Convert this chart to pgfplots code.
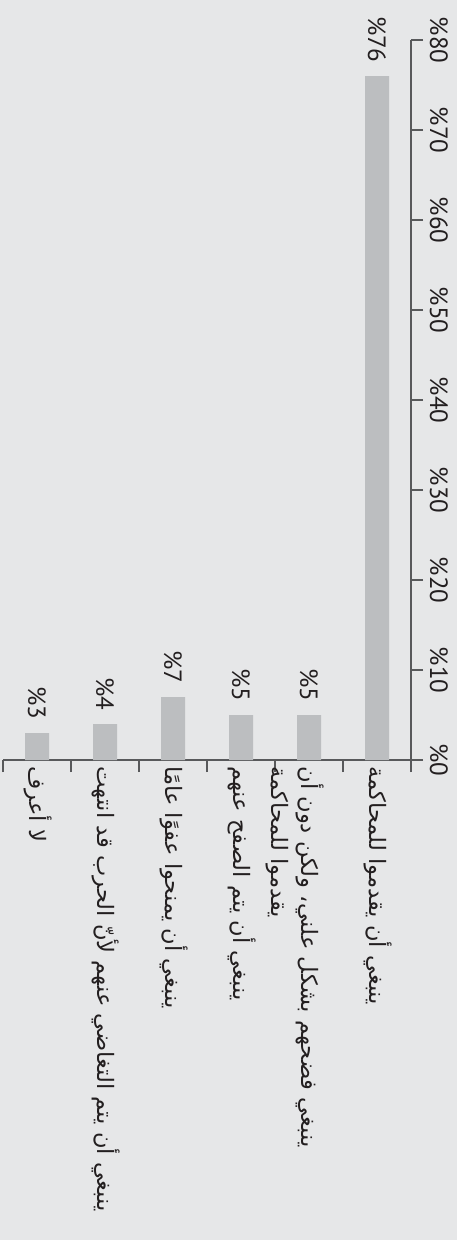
\documentclass[border=0pt]{standalone}
\usepackage{pgfplots}
\pgfplotsset{compat=1.18}
\usepackage{fontspec}
\setmainfont{PT Sans}
\newfontfamily\arabicfont[Script=Arabic]{DejaVu Sans}
\TeXXeTstate=1
\definecolor{bg}{HTML}{E6E7E8}
\definecolor{barc}{HTML}{BCBEC0}
\definecolor{axc}{HTML}{58595B}
\definecolor{txt}{HTML}{231F20}
\begin{document}
\begin{tikzpicture}
\useasboundingbox (0,0) rectangle (228.5pt,-620pt);
\fill[bg] (0,0) rectangle (228.5pt,-620pt);
\begin{axis}[
  at={(1.5pt,-380pt)}, anchor=south west,
  scale only axis, width=204pt, height=360pt,
  xmin=-0.5, xmax=5.5, ymin=0, ymax=80,
  /pgf/number format/assume math mode=true,
  axis x line*=bottom, axis y line*=right,
  axis line style={axc, line width=0.6pt},
  every tick/.style={axc, line width=0.6pt},
  tick align=outside,
  major tick length=6pt,
  ybar, bar width=12pt,
  ytick={0,10,...,80},
  yticklabel={\%\pgfmathprintnumber{\tick}},
  yticklabel style={xshift=3.5pt, rotate=-90, anchor=base, font=\fontsize{12.5}{14}\selectfont, text=txt, inner sep=0pt},
  xtick={-0.5,0.5,...,5.5},
  xticklabels={,,,,,,},
  extra x ticks={0,1,2,3,4,5},
  extra x tick labels={
    {\hbox{\arabicfont\beginR لا أعرف\endR}},
    {\hbox{\arabicfont\beginR ينبغي أن يتم التغاضي عنهم لأنّ الحرب قد انتهت\endR}},
    {\hbox{\arabicfont\beginR ينبغي أن يمنحوا عفوًا عامًا\endR}},
    {\hbox{\arabicfont\beginR ينبغي أن يتم الصفح عنهم\endR}},
    {\vtop{\baselineskip=15pt\hbox{\arabicfont\beginR ينبغي فضحهم بشكل علني، ولكن دون أن\endR}\hbox{\arabicfont\beginR يقدموا للمحاكمة\endR}}},
    {\hbox{\arabicfont\beginR ينبغي أن يقدموا للمحاكمة\endR}}
  },
  extra x tick style={major tick length=0pt,
    xticklabel style={xshift=-4pt, yshift=-3pt, rotate=-90, anchor=base west, inner sep=0pt, font=\fontsize{11.3}{13}\selectfont, text=txt}},
  nodes near coords={\%\pgfmathprintnumber{\pgfplotspointmeta}},
  nodes near coords style={yshift=6.5pt, rotate=-90, anchor=east, inner sep=0pt, font=\fontsize{12.5}{14}\selectfont, text=txt},
]
\addplot[fill=barc, draw=none] coordinates {(0,3) (1,4) (2,7) (3,5) (4,5) (5,76)};
\end{axis}
\end{tikzpicture}
\end{document}
